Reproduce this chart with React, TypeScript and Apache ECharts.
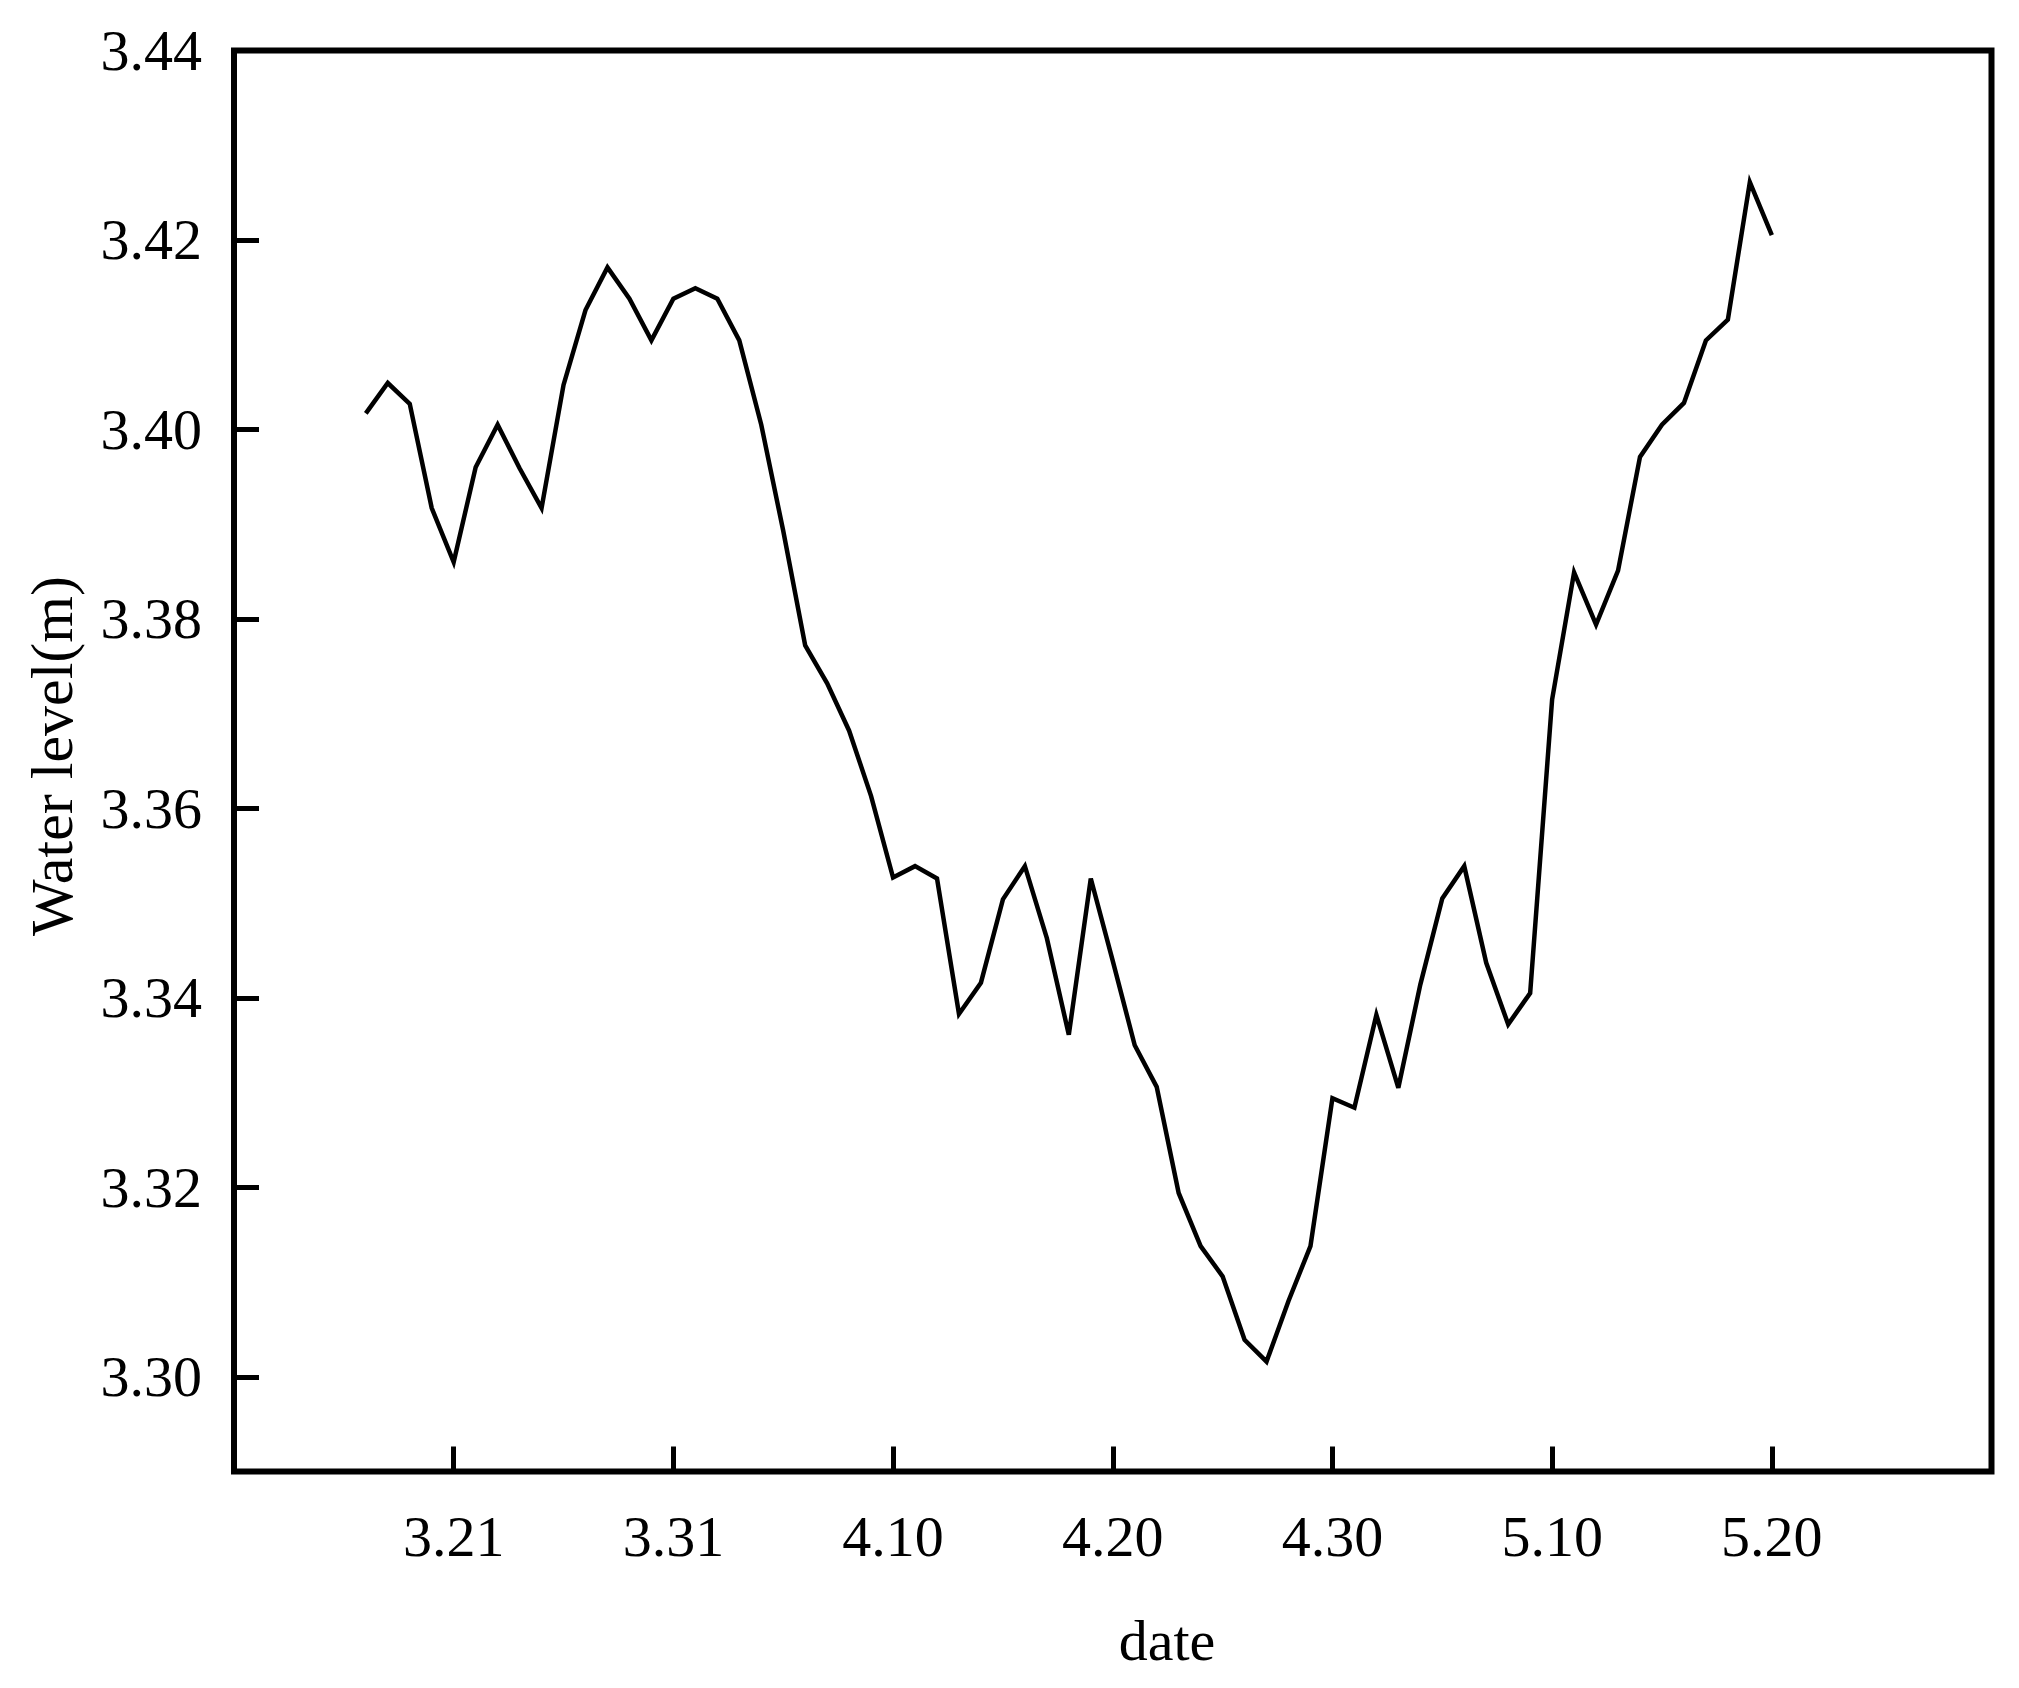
import React, { useEffect, useRef } from "react";
import * as echarts from "echarts";

// Days counted from 3.11 (day 0); first observation on 3.17 (day 6)
const startDay = 6;
const waterLevel = [
  3.4017, 3.4049, 3.4027, 3.3917, 3.386, 3.396, 3.4005, 3.3959, 3.3917, 3.4047,
  3.4126, 3.4171, 3.4138, 3.4094, 3.4138, 3.4149, 3.4138, 3.4094, 3.4005, 3.3893,
  3.3772, 3.3732, 3.3682, 3.3613, 3.3527, 3.3539, 3.3526, 3.3383, 3.3416, 3.3504,
  3.3539, 3.3463, 3.3361, 3.3526, 3.3439, 3.335, 3.3306, 3.3194, 3.3138, 3.3106,
  3.3039, 3.3016, 3.308, 3.3138, 3.3294, 3.3284, 3.3382, 3.3305, 3.3414, 3.3505,
  3.3539, 3.3437, 3.3372, 3.3405, 3.3715, 3.3849, 3.3794, 3.3851, 3.3971, 3.4005,
  3.4028, 3.4094, 3.4116, 3.4261, 3.4205,
];
const xTickDays = [10, 20, 30, 40, 50, 60, 70];
const xTickLabels = ["3.21", "3.31", "4.10", "4.20", "4.30", "5.10", "5.20"];
const yTicks = [3.3, 3.32, 3.34, 3.36, 3.38, 3.4, 3.42, 3.44];

const FONT = '"Liberation Serif", "Times New Roman", serif';

export default function App() {
  const ref = useRef<HTMLDivElement>(null);
  useEffect(() => {
    if (!ref.current) return;
    const chart = echarts.init(ref.current, null, { renderer: "svg" });
    const seriesData = waterLevel.map((v, i) => [startDay + i, v]);
    chart.setOption({
      animation: false,
      backgroundColor: "#ffffff",
      grid: {
        left: 234,
        right: 27.5,
        top: 50.5,
        bottom: 216.5,
        show: true,
        borderColor: "#000",
        borderWidth: 6,
        backgroundColor: "transparent",
        containLabel: false,
        outerBoundsMode: "none",
      },
      xAxis: {
        type: "value",
        min: 0,
        max: 80,
        interval: 10,
        axisLine: { show: false },
        splitLine: { show: false },
        axisTick: {
          show: true,
          inside: true,
          length: 25,
          lineStyle: { color: "#000", width: 5 },
        },
        axisLabel: {
          show: true,
          margin: 65,
          verticalAlign: "middle",
          color: "#000",
          fontFamily: FONT,
          fontSize: 58,
          formatter: (v: number) => {
            const idx = xTickDays.indexOf(Math.round(v));
            return idx >= 0 ? xTickLabels[idx] : "";
          },
        },
      },
      yAxis: {
        type: "value",
        min: 3.29,
        max: 3.44,
        axisLine: { show: false },
        splitLine: { show: false },
        axisTick: {
          show: true,
          inside: true,
          length: 25,
          customValues: yTicks,
          lineStyle: { color: "#000", width: 5 },
        },
        axisLabel: {
          show: true,
          margin: 32,
          customValues: yTicks,
          color: "#000",
          fontFamily: FONT,
          fontSize: 58,
          formatter: (v: number) => v.toFixed(2),
        },
      },
      graphic: [
        {
          type: "text",
          x: 1167,
          y: 1640,
          style: {
            text: "date",
            font: `58px ${FONT}`,
            fill: "#000",
            textAlign: "center",
            textVerticalAlign: "middle",
          },
        },
        {
          type: "text",
          x: 52,
          y: 756,
          rotation: Math.PI / 2,
          style: {
            text: "Water level(m)",
            font: `60px ${FONT}`,
            fill: "#000",
            textAlign: "center",
            textVerticalAlign: "middle",
          },
        },
      ],
      series: [
        {
          type: "line",
          data: seriesData,
          showSymbol: false,
          symbol: "none",
          lineStyle: { color: "#000", width: 4.5, join: "miter" },
          silent: true,
        },
      ],
    });
    return () => chart.dispose();
  }, []);
  return (
    <div
      ref={ref}
      style={{ position: "absolute", left: 0, top: 0, width: 2019, height: 1688 }}
    />
  );
}
